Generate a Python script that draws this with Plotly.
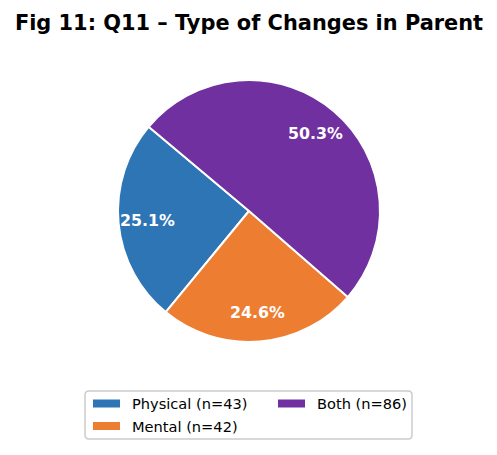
import math

import plotly.graph_objects as go

# data
labels = ["Physical", "Mental", "Both"]
counts = [43, 42, 86]
colors = ["#2E75B6", "#ED7D31", "#7030A0"]
title = "Fig 11: Q11 – Type of Changes in Parent"

W, H = 497, 455
OFF = 8  # the page body margin pushes the figure 8px right and down
CX, CY, R = 249 - OFF, 211 - OFF, 131  # pie centre and radius in pixels
START = 140  # degrees, counterclockwise from 3 o'clock
FONT = "DejaVu Sans"

total = sum(counts)


def px(x, y):
    """Pixel coords (from top-left of the figure) to paper coords."""
    return x / W, 1 - y / H


fig = go.Figure()
fig.add_trace(go.Pie(
    labels=labels,
    values=counts,
    marker=dict(colors=colors, line=dict(color="white", width=2)),
    sort=False,
    direction="counterclockwise",
    # plotly anchors the far edge of the first slice at `rotation` when ccw
    rotation=90 - (START + 360 * counts[0] / total),
    textinfo="none",
    hoverinfo="label+value+percent",
    showlegend=False,
    domain=dict(x=[(CX - R) / W, (CX + R) / W], y=[1 - (CY + R) / H, 1 - (CY - R) / H]),
))

# percentage labels, placed like matplotlib's pctdistance
annotations = []
angle = START
for n in counts:
    span = 360 * n / total
    mid = math.radians(angle + span / 2)
    x, y = px(CX + 0.78 * R * math.cos(mid), CY - 0.78 * R * math.sin(mid))
    annotations.append(dict(
        x=x, y=y, xref="paper", yref="paper", showarrow=False,
        text=f"<b>{100 * n / total:.1f}%</b>",
        font=dict(family=FONT, size=15.8, color="white"),
        xanchor="center", yanchor="middle",
    ))
    angle += span


# legend drawn by hand so it can use matplotlib's column order
def rounded_box(x0, y0, x1, y1, r):
    return (
        f"M {x0 + r},{y0} L {x1 - r},{y0} Q {x1},{y0} {x1},{y0 + r} "
        f"L {x1},{y1 - r} Q {x1},{y1} {x1 - r},{y1} L {x0 + r},{y1} "
        f"Q {x0},{y1} {x0},{y1 - r} L {x0},{y0 + r} Q {x0},{y0} {x0 + r},{y0} Z"
    )


LX, LY = 85 - OFF, 391 - OFF
shapes = [dict(
    type="path", xref="x", yref="y",
    path=rounded_box(LX, LY, LX + 327, LY + 48, 4),
    line=dict(color="#cccccc", width=1.5), fillcolor="rgba(255,255,255,0.8)",
)]
slots = [(LX + 8, LY + 12.5), (LX + 8, LY + 35), (LX + 193, LY + 12.5)]
for (sx, sy), lab, n, col in zip(slots, labels, counts, colors):
    shapes.append(dict(
        type="rect", xref="x", yref="y",
        x0=sx, x1=sx + 27, y0=sy - 4, y1=sy + 4,
        fillcolor=col, line=dict(width=0),
    ))
    x, y = px(sx + 37, sy)
    annotations.append(dict(
        x=x, y=y, xref="paper", yref="paper", showarrow=False,
        text=f"{lab} (n={n})", font=dict(family=FONT, size=14.6, color="black"),
        xanchor="left", yanchor="middle",
    ))

fig.update_layout(
    width=W, height=H,
    margin=dict(l=0, r=0, t=0, b=0),
    paper_bgcolor="white", plot_bgcolor="rgba(0,0,0,0)",
    # hidden pixel-space axes so the legend shapes stay in pixels
    xaxis=dict(range=[0, W], visible=False, fixedrange=True),
    yaxis=dict(range=[H, 0], visible=False, fixedrange=True),
    title=dict(
        text=f"<b>{title}</b>", x=(249 - OFF) / W, xanchor="center",
        y=1 - (23 - OFF) / H, yanchor="middle", yref="container",
        font=dict(family=FONT, size=20.9, color="black"),
    ),
    shapes=shapes,
    annotations=annotations,
)

fig.write_html("out.html")
